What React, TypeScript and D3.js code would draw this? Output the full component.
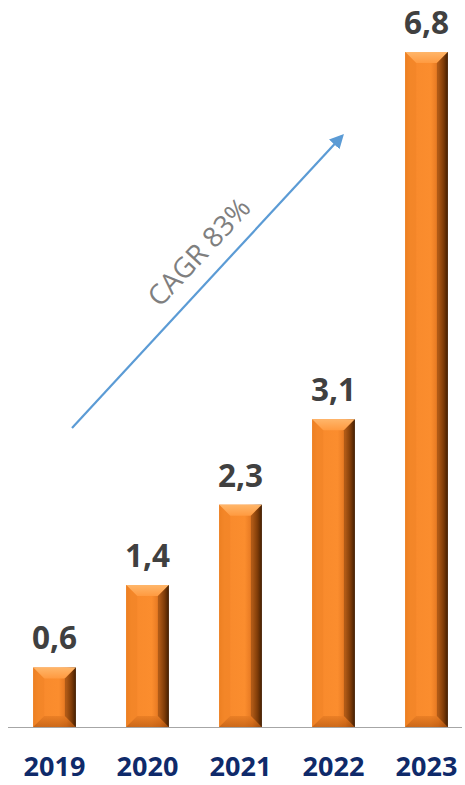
import React from "react";
import * as d3 from "d3";

const years = ["2019", "2020", "2021", "2022", "2023"];
const values = [0.6, 1.43, 2.24, 3.1, 6.8];
const valueLabels = ["0,6", "1,4", "2,3", "3,1", "6,8"];
const cagrLabel = "CAGR 83%";

const W = 465;
const H = 785;
const baseY = 727;

export default function App() {
  const x = d3.scaleBand<string>().domain(years).range([8, 473]).paddingInner(0.54).paddingOuter(0.27);
  const y = d3.scaleLinear().domain([0, 6.8]).range([baseY, 52]);
  const bw = x.bandwidth();
  const bev = 11;

  return (
    <svg width={W} height={H} style={{ position: "absolute", left: 0, top: 0 }}>
      <defs>
        <linearGradient id="body" x1="0" x2="1" y1="0" y2="0">
          <stop offset="0" stopColor="#e87a1c" />
          <stop offset="0.12" stopColor="#f88a2c" />
          <stop offset="0.6" stopColor="#fb8d2e" />
          <stop offset="0.78" stopColor="#e27520" />
          <stop offset="0.9" stopColor="#9a4a0c" />
          <stop offset="1" stopColor="#3e1c02" />
        </linearGradient>
        <linearGradient id="topbev" x1="0" x2="0" y1="0" y2="1">
          <stop offset="0" stopColor="#ffb66a" />
          <stop offset="1" stopColor="#ff9a40" />
        </linearGradient>
        <linearGradient id="botbev" x1="0" x2="0" y1="0" y2="1">
          <stop offset="0" stopColor="#e57a22" />
          <stop offset="1" stopColor="#b85a12" />
        </linearGradient>
        <marker id="arr" viewBox="0 0 10 10" refX="8" refY="5" markerWidth="6.5" markerHeight="6.5" orient="auto">
          <path d="M0,0 L10,5 L0,10 z" fill="#5b9bd5" />
        </marker>
      </defs>
      <line x1={8} x2={462} y1={baseY + 0.5} y2={baseY + 0.5} stroke="#a6a6a6" strokeWidth={1} />
      {years.map((yr, i) => {
        const x0 = x(yr)!;
        const top = y(values[i]);
        return (
          <g key={yr}>
            <rect x={x0} y={top} width={bw} height={baseY - top} fill="url(#body)" />
            <path
              d={`M${x0},${top} L${x0 + bw},${top} L${x0 + bw - bev},${top + bev} L${x0 + bev},${top + bev} Z`}
              fill="url(#topbev)"
            />
            <path
              d={`M${x0},${top} L${x0 + bev},${top + bev} L${x0 + bev},${baseY - bev} L${x0},${baseY} Z`}
              fill="#f08326"
              opacity={0.6}
            />
            <path
              d={`M${x0},${baseY} L${x0 + bev},${baseY - bev} L${x0 + bw - bev},${baseY - bev} L${x0 + bw},${baseY} Z`}
              fill="url(#botbev)"
              opacity={0.7}
            />
            <path
              d={`M${x0 + bw},${top} L${x0 + bw - bev},${top + bev} L${x0 + bw - bev},${baseY - bev} L${x0 + bw},${baseY} Z`}
              fill="#4a2204"
              opacity={0.35}
            />
            <text
              x={x0 + bw / 2}
              y={top - 18}
              textAnchor="middle"
              fontFamily="'Open Sans', sans-serif"
              fontWeight={700}
              fontSize={31.5}
              fill="#404040"
            >
              {valueLabels[i]}
            </text>
            <text
              x={x0 + bw / 2}
              y={776}
              textAnchor="middle"
              fontFamily="'Open Sans', sans-serif"
              fontWeight={700}
              fontSize={27}
              fill="#0f2a6a"
            >
              {yr}
            </text>
          </g>
        );
      })}
      <line x1={72} y1={428} x2={342} y2={136} stroke="#5b9bd5" strokeWidth={2.2} markerEnd="url(#arr)" />
      <text
        transform={`translate(199,252) rotate(-47)`}
        textAnchor="middle"
        dy="0.35em"
        fontFamily="'Open Sans', sans-serif"
        fontSize={28}
        fill="#7f7f7f"
      >
        {cagrLabel}
      </text>
    </svg>
  );
}
